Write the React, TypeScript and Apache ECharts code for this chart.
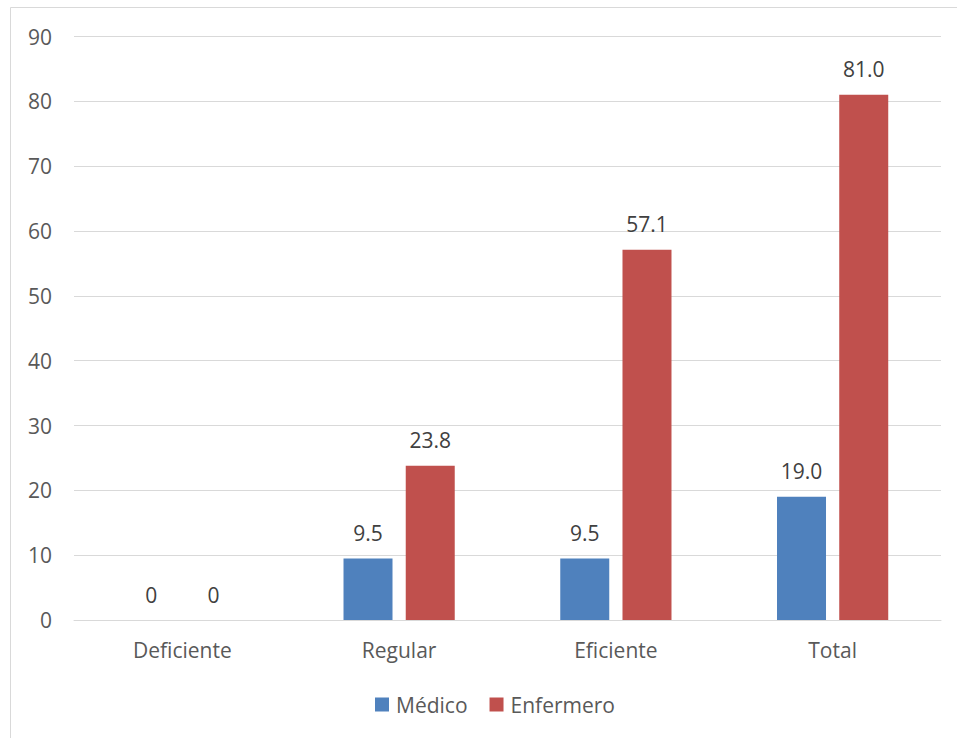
import React, { useEffect, useRef } from "react";
import * as echarts from "echarts";

const categories = ["Deficiente", "Regular", "Eficiente", "Total"];
const medico = [0, 9.5, 9.5, 19.0];
const enfermero = [0, 23.8, 57.1, 81.0];
const seriesNames = ["Médico", "Enfermero"];

const fmt = (p: any) => (p.value === 0 ? "0" : Number(p.value).toFixed(1));

export default function App() {
  const ref = useRef<HTMLDivElement>(null);
  useEffect(() => {
    document.body.style.margin = "0";
    const chart = echarts.init(ref.current!, null, { renderer: "svg" });
    const font = "'Open Sans', sans-serif";
    const labelCfg = {
      show: true,
      position: "top",
      distance: 15,
      formatter: fmt,
      color: "#404040",
      fontSize: 21,
      fontFamily: font,
    };
    chart.setOption({
      animation: false,
      backgroundColor: "#ffffff",
      textStyle: { fontFamily: font },
      graphic: [
        {
          type: "rect",
          shape: { x: 10.5, y: 7.5, width: 1000, height: 1000 },
          style: { fill: "none", stroke: "#d9d9d9", lineWidth: 1 },
          silent: true,
        },
      ],
      grid: { left: 74, right: 16, top: 36.5, bottom: 118, containLabel: false },
      legend: {
        data: seriesNames,
        top: 689,
        left: 370,
        itemWidth: 14,
        itemHeight: 14,
        itemGap: 22,
        icon: "rect",
        textStyle: { color: "#595959", fontSize: 21, fontFamily: font, padding: [0, 0, 0, 2] },
      },
      xAxis: {
        type: "category",
        data: categories,
        axisLine: { show: true, lineStyle: { color: "#d9d9d9" } },
        axisTick: { show: false },
        axisLabel: { color: "#595959", fontSize: 21, fontFamily: font, margin: 19 },
      },
      yAxis: {
        type: "value",
        min: 0,
        max: 90,
        interval: 10,
        axisLine: { show: false },
        axisTick: { show: false },
        axisLabel: { color: "#595959", fontSize: 21, fontFamily: font, margin: 22 },
        splitLine: { lineStyle: { color: "#d9d9d9", width: 1 } },
      },
      series: [
        {
          name: seriesNames[0],
          type: "bar",
          data: medico,
          barWidth: 49,
          barGap: "27%",
          itemStyle: { color: "#4F81BD" },
          label: labelCfg,
        },
        {
          name: seriesNames[1],
          type: "bar",
          data: enfermero,
          barWidth: 49,
          barGap: "27%",
          itemStyle: { color: "#C0504D" },
          label: labelCfg,
        },
      ],
    });
    return () => chart.dispose();
  }, []);
  return <div ref={ref} style={{ width: 957, height: 738 }} />;
}
